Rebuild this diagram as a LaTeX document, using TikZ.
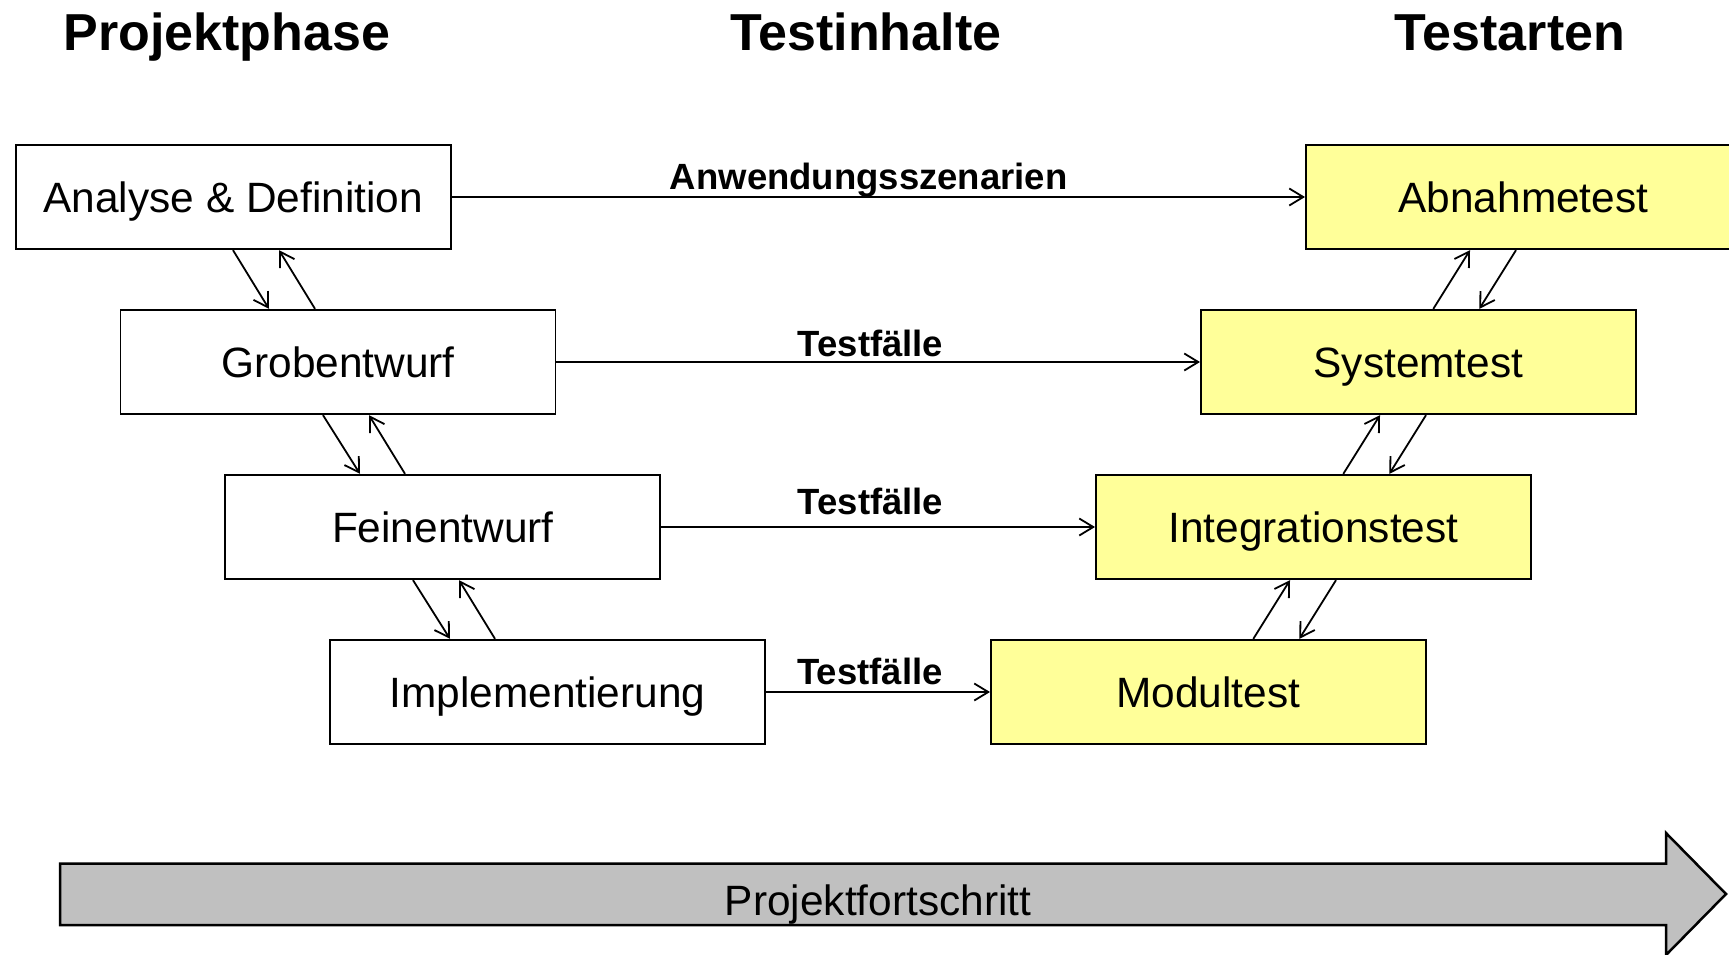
\documentclass[tikz,border=0pt]{standalone}
\usepackage{fontspec}
\setmainfont{Liberation Sans}
\usetikzlibrary{arrows.meta}
\definecolor{boxyellow}{HTML}{FFFF99}
\definecolor{arrowgray}{HTML}{C0C0C0}
\begin{document}
\begin{tikzpicture}[x=1pt,y=-1pt,
  phase/.style={draw, line width=1.8pt, minimum width=435pt, minimum height=104.5pt,
    inner sep=0pt, text height=30.4pt, text depth=0pt, font=\fontsize{42.4}{50}\selectfont},
  testbox/.style={phase, fill=boxyellow},
  conn/.style={line width=1.8pt, -{Straight Barb[length=14pt,width=17pt]}},
  head/.style={anchor=base, inner sep=0pt, font=\bfseries\fontsize{52}{60}\selectfont},
  lbl/.style={anchor=base, inner sep=0pt, font=\bfseries\fontsize{36.5}{42}\selectfont}]
\useasboundingbox (0,0) rectangle (1729,954);

% headers
\node[head] (h1) at (227,50) {Projektphase};
\node[head] (h2) at (866,50) {Testinhalte};
\node[head] (h3) at (1510,50) {Testarten};

% left boxes
\node[phase] (an) at (233.2,197) {Analyse \& Definition};
\node[phase] (gr) at (338,362) {Grobentwurf};
\node[phase] (fe) at (442.8,527) {Feinentwurf};
\node[phase] (im) at (547.5,692) {Implementierung};

% right boxes
\node[testbox] (ab) at (1523.4,197) {Abnahmetest};
\node[testbox] (sy) at (1418.4,362) {Systemtest};
\node[testbox] (in) at (1313.4,527) {Integrationstest};
\node[testbox] (mo) at (1208.4,692) {Modultest};

% horizontal connectors
\draw[conn] (an) -- (ab);
\draw[conn] (gr) -- (sy);
\draw[conn] (fe) -- (in);
\draw[conn] (im) -- (mo);

% labels
\node[lbl] (l1) at (868.7,189.5) {Anwendungsszenarien};
\node[lbl] (l2) at (870.5,356) {Testfälle};
\node[lbl] (l3) at (870.5,514.5) {Testfälle};
\node[lbl] (l4) at (870,684.5) {Testfälle};

% left vertical connectors
\draw[conn] (an.south -| 233,0) -- (gr.north -| 269,0);
\draw[conn] (gr.north -| 315,0) -- (an.south -| 279,0);
\draw[conn] (gr.south -| 323,0) -- (fe.north -| 360,0);
\draw[conn] (fe.north -| 405,0) -- (gr.south -| 369,0);
\draw[conn] (fe.south -| 413,0) -- (im.north -| 450,0);
\draw[conn] (im.north -| 495,0) -- (fe.south -| 459,0);

% right vertical connectors
\draw[conn] (sy.north -| 1433.3,0) -- (ab.south -| 1470,0);
\draw[conn] (ab.south -| 1516,0) -- (sy.north -| 1479.3,0);
\draw[conn] (in.north -| 1343.3,0) -- (sy.south -| 1380,0);
\draw[conn] (sy.south -| 1426,0) -- (in.north -| 1389.3,0);
\draw[conn] (mo.north -| 1253.3,0) -- (in.south -| 1290,0);
\draw[conn] (in.south -| 1336,0) -- (mo.north -| 1299.3,0);

% big progress arrow
\draw[line width=2.5pt, fill=arrowgray] (60,863.5) -- (1666,863.5) -- (1666,833)
  -- (1726,894) -- (1666,955) -- (1666,925) -- (60,925) -- cycle;
\node[inner sep=0pt, text height=30.4pt, text depth=0pt, font=\fontsize{42.4}{50}\selectfont]
  (pf) at (878,900) {Projektfortschritt};
\end{tikzpicture}
\end{document}
